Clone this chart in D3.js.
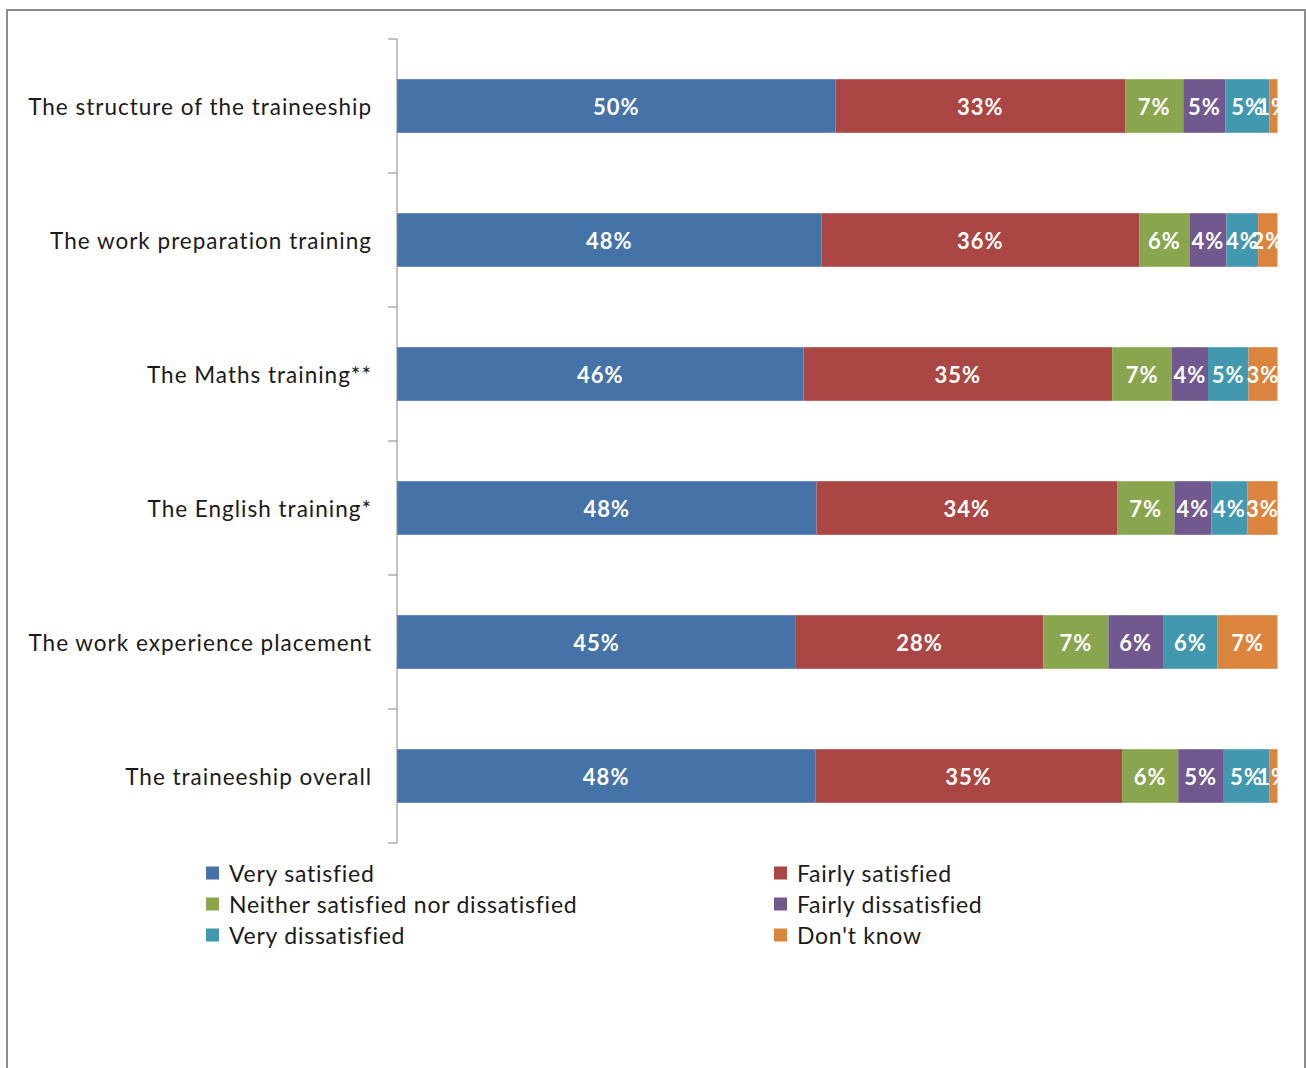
<!DOCTYPE html>
<html><head><meta charset="utf-8">
<script src="https://cdn.jsdelivr.net/npm/d3@7"></script>
<style>body{margin:0;background:#fff}svg{display:block}</style>
</head><body>
<svg id="c" width="1306" height="1068"></svg>
<script>
const categories = [
  "The structure of the traineeship",
  "The work preparation training",
  "The Maths training**",
  "The English training*",
  "The work experience placement",
  "The traineeship overall"
];
const seriesNames = ["Very satisfied","Fairly satisfied","Neither satisfied nor dissatisfied","Fairly dissatisfied","Very dissatisfied","Don't know"];
const verySatisfied     = [49.8, 48.2, 46.2, 47.6, 45.3, 47.6];
const fairlySatisfied   = [32.9, 36.1, 35.1, 34.1, 28.1, 34.9];
const neither           = [6.6, 5.7, 6.8, 6.5, 7.4, 6.4];
const fairlyDissatisfied= [4.8, 4.2, 4.1, 4.2, 6.2, 5.1];
const veryDissatisfied  = [5.0, 3.6, 4.6, 4.1, 6.2, 5.3];
const dontKnow          = [0.9, 2.2, 3.3, 3.4, 6.8, 0.9];
const colors = ["#4572A7","#AA4643","#89A54E","#71588F","#4198AF","#DB843D"];

const seriesValues = [verySatisfied, fairlySatisfied, neither, fairlyDissatisfied, veryDissatisfied, dontKnow];
const rows = categories.map((c,i)=>{
  const o = {cat:c};
  seriesNames.forEach((s,j)=>o[s]=seriesValues[j][i]);
  return o;
});
const stacked = d3.stack().keys(seriesNames).offset(d3.stackOffsetExpand)(rows);

const svg = d3.select("#c");
// outer frame
svg.append("path").attr("d","M7,1068V10H1305V1068").attr("fill","none").attr("stroke","#8c8c8c").attr("stroke-width",2);

const x = d3.scaleLinear().domain([0,1]).range([397,1277.5]);
const y = d3.scaleBand().domain(categories).range([39,843]).paddingInner(0.6).paddingOuter(0.3);

svg.append("defs").append("clipPath").attr("id","plot").append("rect")
  .attr("x",397).attr("y",30).attr("width",881).attr("height",820);

const g = svg.append("g");
stacked.forEach((layer,j)=>{
  g.selectAll(null).data(layer).enter().append("rect")
    .attr("x",d=>x(d[0])).attr("y",(d,i)=>y(categories[i]))
    .attr("width",d=>x(d[1])-x(d[0])).attr("height",y.bandwidth())
    .attr("fill",colors[j]);
});
const lg = svg.append("g").attr("clip-path","url(#plot)");
stacked.forEach((layer,j)=>{
  lg.selectAll(null).data(layer).enter().append("text")
    .attr("x",d=>(x(d[0])+x(d[1]))/2)
    .attr("y",(d,i)=>y(categories[i])+y.bandwidth()/2)
    .attr("dy","0.4em").attr("text-anchor","middle")
    .attr("fill","#fff").attr("font-family","Lato, sans-serif").attr("font-weight","bold").attr("font-size",22)
    .attr("letter-spacing","1px")
    .text((d,i)=>Math.round(seriesValues[j][i])+"%");
});

// axis
const axis = d3.axisLeft(y).tickSize(0).tickPadding(25);
const ag = svg.append("g").attr("transform","translate(397,0)").call(axis);
ag.select(".domain").attr("stroke","#868686").attr("d","M0,39V843");
ag.selectAll("text").attr("font-family","Lato, sans-serif").attr("font-size",22.5).attr("fill","#1a1a1a")
  .attr("letter-spacing","1px").attr("dy","0.4em");
const bounds = categories.map(c=>y(c)-(y.step()-y.bandwidth())/2).concat([843]);
ag.selectAll(null).data(bounds).enter().append("line")
  .attr("x1",-9).attr("x2",0).attr("y1",d=>d).attr("y2",d=>d).attr("stroke","#868686");

// legend
const legPos = [[206,873],[774,873],[206,904],[774,904],[206,935],[774,935]];
const leg = svg.append("g");
seriesNames.forEach((s,j)=>{
  const [lx,ly] = legPos[j];
  leg.append("rect").attr("x",lx).attr("y",ly-6.5).attr("width",13).attr("height",13).attr("fill",colors[j]);
  leg.append("text").attr("x",lx+23).attr("y",ly).attr("dy","0.38em")
    .attr("font-family","Lato, sans-serif").attr("font-size",23).attr("fill","#1a1a1a")
    .attr("letter-spacing","0.75px").text(s);
});
</script>
</body></html>
